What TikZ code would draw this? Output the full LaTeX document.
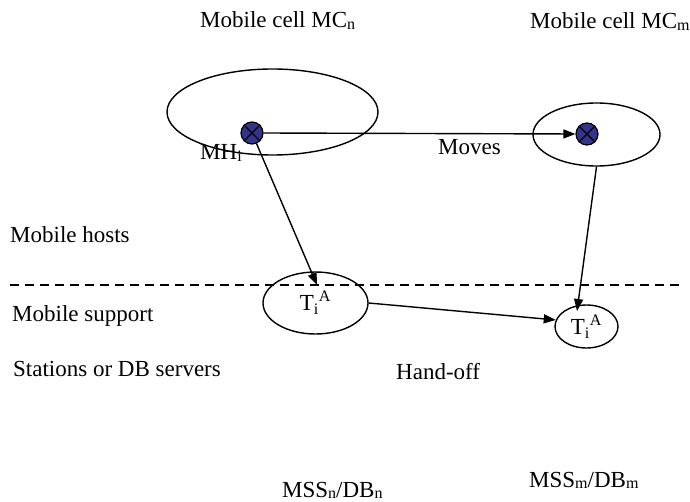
\documentclass[tikz,border=0pt]{standalone}
\usepackage{fontspec}
\setmainfont{Liberation Serif}
\usetikzlibrary{shapes.geometric,arrows.meta}
\definecolor{hostblue}{RGB}{52,52,140}
\newcommand{\lowsub}[1]{\raisebox{-1.5pt}{\fontsize{16}{16}\selectfont #1}}
\begin{document}
\begin{tikzpicture}[x=1pt,y=-1pt,
  every node/.style={font=\fontsize{23}{27}\selectfont},
  lbl/.style={anchor=base west,inner sep=0pt},
  cell/.style={draw,ellipse,line width=1.4pt,inner sep=0pt},
  host/.style={draw,circle,line width=1.2pt,fill=hostblue,minimum size=22pt,inner sep=0pt},
  arr/.style={line width=1.4pt,-{Triangle[length=12pt,width=9pt]}},
  cross/.style={line width=1.2pt}]
\useasboundingbox (0,0) rectangle (690,502);
% cells
\node[cell,minimum width=211pt,minimum height=86pt] (mcn) at (272.5,112) {};
\node[cell,minimum width=127pt,minimum height=63pt] (mcm) at (596.5,134.5) {};
% hosts
\node[host] (mh) at (252,133) {};
\node[host] (mh2) at (587,134) {};
\draw[cross] (mh.north west) -- (mh.south east) (mh.north east) -- (mh.south west);
\draw[cross] (mh2.north west) -- (mh2.south east) (mh2.north east) -- (mh2.south west);
% support stations
\node[cell,minimum width=105pt,minimum height=62pt] (t1) at (315.5,303) {T\textsubscript{i}\textsuperscript{A}};
\node[cell,minimum width=63pt,minimum height=43pt] (t2) at (586.5,326.5) {T\textsubscript{i}\textsuperscript{A}};
% dashed separator
\coordinate (dl) at (10,285);
\coordinate (dr) at (683,285);
\draw[line width=1.4pt,dash pattern=on 9pt off 6pt] (dl) -- (dr);
% arrow targets
\coordinate (a1) at (317,285);
\coordinate (a2) at (577,311);
% connectors
\draw[arr] (mh.east) -- (mh2.west);
\draw[arr] (mh) -- (a1);
\draw[arr] (mcm.south) -- (a2);
\draw[arr] (t1.east) -- (t2.168);
% labels
\node[lbl] (lmcn) at (200,28) {Mobile cell MC\lowsub{n}};
\node[lbl] (lmcm) at (530,29) {Mobile cell MC\lowsub{m}};
\node[lbl] (lmh) at (200,160) {MH\lowsub{i}};
\node[lbl] (lmoves) at (438,155) {Moves};
\node[lbl] (lhosts) at (10,243) {Mobile hosts};
\node[lbl] (lsupport) at (12,322) {Mobile support};
\node[lbl] (lstations) at (13,376) {Stations or DB servers};
\node[lbl] (lhand) at (396,379) {Hand-off};
\node[lbl] (lmssn) at (282,497) {MSS\lowsub{n}/DB\lowsub{n}};
\node[lbl] (lmssm) at (529,487) {MSS\lowsub{m}/DB\lowsub{m}};
\end{tikzpicture}
\end{document}
